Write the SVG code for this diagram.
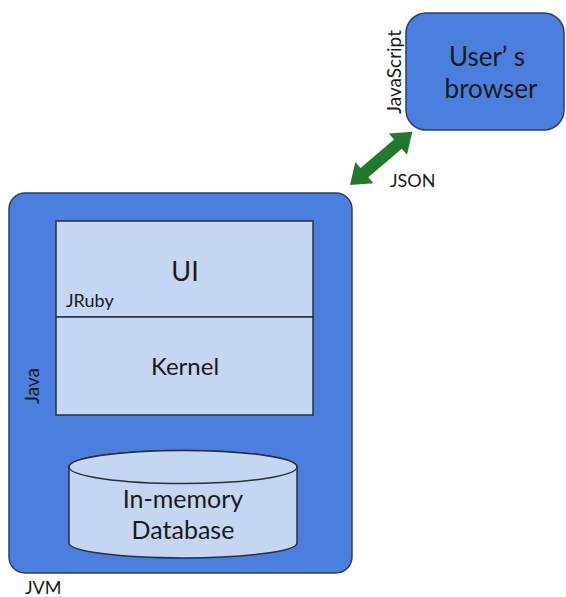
<svg xmlns="http://www.w3.org/2000/svg" width="566" height="597" viewBox="0 0 566 597">
<style>
.blue{fill:#4a7fdd;stroke:#2a3f6e;stroke-width:1.5}
.light{fill:#c5d6f3;stroke:#2b2f3a;stroke-width:1.5}
text{font-family:Lato,"Liberation Sans",sans-serif;fill:#1a1a1a}
</style>
<rect width="566" height="597" fill="#ffffff"/>
<g id="jvm">
<rect class="blue" x="9" y="193" width="343" height="380" rx="16"/>
<text x="25" y="594" font-size="18">JVM</text>
<text transform="translate(39,386) rotate(-90)" font-size="19" text-anchor="middle">Java</text>
</g>
<g id="ui">
<rect class="light" x="56" y="221" width="257" height="96"/>
<text x="185" y="281" font-size="27" text-anchor="middle">UI</text>
<text x="66" y="307" font-size="18">JRuby</text>
</g>
<g id="kernel">
<rect class="light" x="56" y="317" width="257" height="98"/>
<text x="185" y="375" font-size="24" text-anchor="middle">Kernel</text>
</g>
<g id="database">
<path class="light" d="M69,467 L69,543 A114,15 0 0 0 297,543 L297,467 A114,16.5 0 0 0 69,467 Z"/>
<ellipse class="light" cx="183" cy="467" rx="114" ry="16.5"/>
<text x="183" y="508" font-size="25" text-anchor="middle">In-memory</text>
<text x="183" y="539" font-size="25" text-anchor="middle">Database</text>
</g>
<g id="browser">
<rect class="blue" x="406" y="13" width="158" height="117" rx="20"/>
<text x="487" y="66" font-size="26" text-anchor="middle">User’ s</text>
<text x="491" y="98" font-size="26" text-anchor="middle">browser</text>
<text transform="translate(401,72) rotate(-90)" font-size="19" text-anchor="middle">JavaScript</text>
</g>
<g id="connectors">
<path transform="translate(350,185) rotate(-40.5)" fill="#23792b" d="M0,0 L19,-14 L19,-6 L63,-6 L63,-14 L82,0 L63,14 L63,6 L19,6 L19,14 Z"/>
<text x="390" y="187" font-size="18">JSON</text>
</g>
</svg>
